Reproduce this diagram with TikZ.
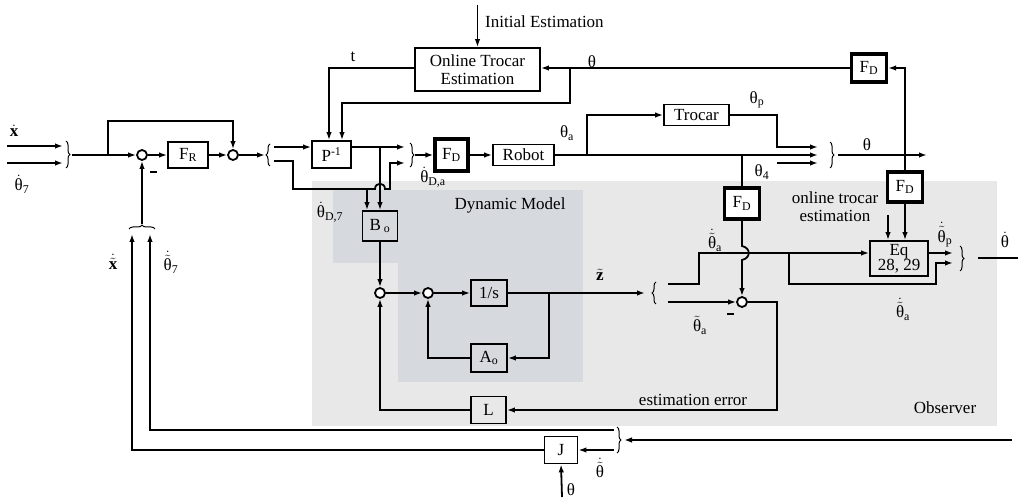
\documentclass[tikz,border=0pt]{standalone}
\usepackage{fontspec}
\setmainfont{Liberation Serif}
\usepackage{amsmath}
\usetikzlibrary{arrows.meta,decorations.pathreplacing}
\newcommand{\myth}{\text{θ}}
\begin{document}
\begin{tikzpicture}[x=1pt,y=-1pt,font=\fontsize{17}{18}\selectfont,
  >={Latex[length=8pt,width=5.5pt]},
  ln/.style={line width=1.8pt},
  ar/.style={line width=1.8pt,->},
  blk/.style={draw,line width=1.8pt,inner sep=0pt},
  fdb/.style={draw,line width=3.2pt,fill=white,inner sep=0pt,minimum width=34,minimum height=30},
  sumc/.style={circle,draw,line width=1.8pt,fill=white,minimum size=10,inner sep=0pt},
  brc/.style={decorate,decoration={brace,amplitude=4pt},line width=1pt},
  lbl/.style={inner sep=0pt},
  mns/.style={line width=2.2pt}]
\useasboundingbox (0,0) rectangle (1018,502);
\definecolor{obsc}{HTML}{E8E8E8}
\definecolor{dync}{HTML}{D6D9DD}
% regions
\fill[obsc] (312,181) rectangle (997,426);
\fill[dync] (333,190) rectangle (583,263);
\fill[dync] (398,190) rectangle (583,382);

% blocks
\node[blk,minimum width=125,minimum height=43,align=center] (OTE) at (477.5,69.5) {Online Trocar\\Estimation};
\node[fdb,minimum width=35,minimum height=28] (FDt) at (869,68) {F$_\text{D}$};
\node[blk,minimum width=39,minimum height=27] (Pinv) at (331.5,154.5) {P$^{\text{-1}}$};
\node[fdb,minimum width=33,minimum height=32] (FD1) at (451.5,155) {F$_\text{D}$};
\node[blk,minimum width=61,minimum height=21] (Rob) at (523.5,155) {Robot};
\node[blk,minimum width=65,minimum height=21] (Tro) at (696.5,115) {Trocar};
\node[fdb,minimum width=35,minimum height=31] (FD2) at (742,203.5) {F$_\text{D}$};
\node[fdb,minimum width=35,minimum height=30] (FD3) at (905,187) {F$_\text{D}$};
\node[blk,minimum width=58,minimum height=35,align=center,font=\fontsize{17}{15}\selectfont] (Eq) at (899,258.5) {Eq\\28, 29};
\node[sumc] (c1) at (142,155) {};
\node[sumc] (c2) at (233,155) {};
\node[blk,minimum width=40,minimum height=26] (FR) at (188,155) {F$_\text{R}$};
\node[sumc] (c3) at (742,302) {};
\node[sumc] (c4) at (380,293) {};
\node[sumc] (c5) at (428,293) {};
\node[blk,minimum width=35,minimum height=30] (Bo) at (380,226) {B\,$_\text{o}$};
\node[blk,minimum width=36,minimum height=26] (Int) at (489,293) {1/s};
\node[blk,minimum width=36,minimum height=28] (Ao) at (489,358) {A$_\text{o}$};
\node[blk,minimum width=35,minimum height=27] (L) at (488.5,410) {L};
\node[blk,minimum width=33,minimum height=27] (J) at (561,450) {J};

% top loop
\coordinate (IE) at (477.5,5);
\draw[ar] (IE) -- (OTE.north);
\node[lbl,anchor=west] (IElbl) at (485,22) {Initial Estimation};
\coordinate (jTh) at (905,155);
\draw[ar] (jTh) -- (jTh |- FDt) -- (FDt.east);
\draw[ar] (FDt.west) -- (FDt.west -| OTE.east);
\coordinate (jO) at (570,68);
\draw[ar] (jO) -- (570,103) -- (342,103) -- (342,103 |- Pinv.north);
\draw[ar] (OTE.west |- FDt) -- (329,68) -- (329,68 |- Pinv.north);

% left part
\coordinate (in1) at (7,146);
\coordinate (in2) at (7,163);
\draw[ar] (in1) -- (63,146);
\draw[ar] (in2) -- (63,163);
\draw[brc] (66,141) -- (66,168);
\coordinate (b1) at (72,155);
\draw[ar] (b1) -- (c1.west);
\coordinate (j1) at (108,155);
\draw[ar] (j1) -- (108,121) -- (233,121) -- (c2.north);
\draw[ar] (c1.east) -- (FR.west);
\draw[ar] (FR.east) -- (c2.west);
\draw[ar] (c2.east) -- (265,155);
\draw[brc] (270,166) -- (270,144);
\draw[ar] (274,147) -- (274,147 -| Pinv.west);
\draw[ar] (274,161) -- (293,161) -- (293,189) -- (367,189) -- (367,189 |- Bo.north);
\draw[ar] (367,189) -- (375,189) .. controls (375,182) and (385,182) .. (385,189) -- (390,189) -- (390,163) -- (405,163);
\draw[ar] (Pinv.east |- 300,147) -- (405,147);
\draw[ar] (380,147) -- (380,147 |- Bo.north);
\draw[brc] (410,143) -- (410,167);
\draw[ar] (415,155) -- (FD1.west);
\draw[ar] (FD1.east) -- (Rob.west);

% plant outputs
\draw[ar] (Rob.east) -- (818,155);
\draw[ar] (587,155) -- (587,115) -- (Tro.west);
\draw[ar] (Tro.east) -- (777,115) -- (777,147) -- (818,147);
\draw[ar] (777,163) -- (818,163);
\draw[brc] (830,142) -- (830,168);
\draw[ar] (838,155) -- (927,155);
\draw[ln] (742,155) -- (FD2.north);
\draw[ar] (FD2.south) -- (742,246) .. controls (751,248) and (751,258) .. (742,260) -- (c3.north);
\draw[ln] (jTh) -- (FD3.north);
\draw[ar] (FD3.south) -- (FD3.south |- Eq.north);
\draw[ar] (888,215) -- (888,215 |- Eq.north);
\draw[ar] (Eq.east |- 900,253) -- (953,253);
\draw[ar] (789,253) -- (789,284) -- (936,284) -- (936,263) -- (953,263);
\draw[brc] (960,246) -- (960,271);
\draw[ln] (978,258) -- (1018,258);

% observer
\draw[ar] (Int.east) -- (645,293);
\draw[brc] (656,304) -- (656,282);
\draw[ar] (668,284) -- (699,284) -- (699,253) -- (Eq.west |- 699,253);
\draw[ar] (668,302) -- (c3.west);
\draw[ar] (c3.east) -- (777,302) -- (777,410) -- (L.east);
\draw[ar] (L.west) -- (380,410) -- (c4.south);
\draw[ar] (Bo.south) -- (c4.north);
\draw[ar] (c4.east) -- (c5.west);
\draw[ar] (c5.east) -- (Int.west);
\draw[ar] (549,293) -- (549,358) -- (Ao.east);
\draw[ar] (Ao.west) -- (428,358) -- (c5.south);

% bottom feedback
\draw[brc] (129,229) -- (155,229);
\draw[ar] (142,224) -- (c1.south);
\draw[ar] (J.west) -- (132,450) -- (132,234);
\draw[ar] (614,430) -- (150,430) -- (150,234);
\draw[brc] (617,427) -- (617,453);
\draw[ar] (1012,440) -- (624,440);
\draw[ar] (614,450) -- (J.east);
\draw[ar] (562,497) -- (J.south);

% minus signs
\draw[mns] (150,172) -- (157,172);
\draw[mns] (727,314) -- (734,314);

% labels
\node[lbl] (lxd) at (14,131) {$\dot{\textbf{x}}$};
\node[lbl] (lth7) at (22,184) {$\dot{\myth}_{\text{7}}$};
\node[lbl] (lxt) at (113,262) {$\dot{\tilde{\textbf{x}}}$};
\node[lbl] (ltht7) at (171,262) {$\dot{\tilde{\myth}}_{\text{7}}$};
\node[lbl] (lt) at (353,57) {t};
\node[lbl] (lthO) at (592,62) {θ};
\node[lbl] (lthDa) at (433,177) {$\dot{\myth}_{\text{D,a}}$};
\node[lbl] (lthD7) at (330,212) {$\dot{\myth}_{\text{D,7}}$};
\node[lbl] (ltha) at (567,133) {θ$_\text{a}$};
\node[lbl] (lthp) at (757,100) {θ$_\text{p}$};
\node[lbl] (lth4) at (762,172) {θ$_\text{4}$};
\node[lbl] (lth) at (867,145) {θ};
\node[lbl,align=center] (lotr) at (835,207) {online trocar\\estimation};
\node[lbl] (lDM) at (510,205) {Dynamic Model};
\node[lbl] (lz) at (600,275) {$\tilde{\textbf{z}}$};
\node[lbl] (lthta1) at (715,240) {$\dot{\tilde{\myth}}_{\text{a}}$};
\node[lbl] (lthta2) at (903,309) {$\dot{\tilde{\myth}}_{\text{a}}$};
\node[lbl] (lthta3) at (700,325) {$\tilde{\myth}_{\text{a}}$};
\node[lbl] (lthtp) at (945,235) {$\dot{\tilde{\myth}}_{\text{p}}$};
\node[lbl] (lthdot) at (1005,240) {$\dot{\myth}$};
\node[lbl] (lee) at (693,400) {estimation error};
\node[lbl] (lobs) at (945,408) {Observer};
\node[lbl] (lthJ) at (600,468) {$\dot{\tilde{\myth}}$};
\node[lbl] (lthb) at (571,490) {θ};
\end{tikzpicture}
\end{document}
